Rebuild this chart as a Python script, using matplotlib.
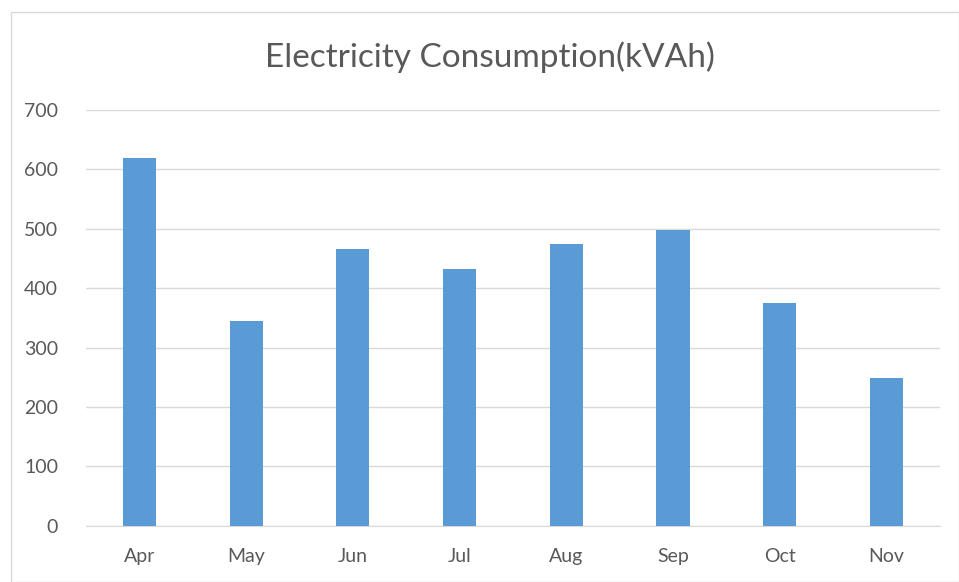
import matplotlib
matplotlib.use("Agg")
import matplotlib.pyplot as plt
from matplotlib.patches import Rectangle

# Monthly consumption values
months = ["Apr", "May", "Jun", "Jul", "Aug", "Sep", "Oct", "Nov"]
consumption = [620, 345, 466, 432, 475, 498, 375, 248]
y_ticks = [0, 100, 200, 300, 400, 500, 600, 700]

plt.rcParams["font.family"] = ["Lato", "DejaVu Sans"]

fig = plt.figure(figsize=(9.59, 5.82), dpi=100)
ax = fig.add_axes([0.0897, 0.0967, 0.8903, 0.7143])

# Outer chart border like the spreadsheet chart frame
fig.patches.append(Rectangle((0.011, 0.0), 0.989, 0.98, transform=fig.transFigure,
                             fill=False, edgecolor="#D9D9D9", linewidth=1))

x = range(len(months))
ax.bar(x, consumption, width=0.31, color="#5B9BD5", zorder=3)

ax.set_xlim(-0.5, len(months) - 0.5)
ax.set_ylim(0, 700)
ax.set_yticks(y_ticks)
ax.set_xticks(list(x))
ax.set_xticklabels(months)

ax.grid(axis="y", color="#D9D9D9", linewidth=1, zorder=0)
for side in ["top", "right", "left"]:
    ax.spines[side].set_visible(False)
ax.spines["bottom"].set_color("#D9D9D9")
ax.tick_params(axis="both", length=0, colors="#595959", labelsize=14)
ax.tick_params(axis="y", pad=20)
ax.tick_params(axis="x", pad=16)

fig.text(0.511, 0.902, "Electricity Consumption(kVAh)", ha="center", va="center",
         fontsize=24, color="#595959")

fig.savefig("out.png", dpi=100)
